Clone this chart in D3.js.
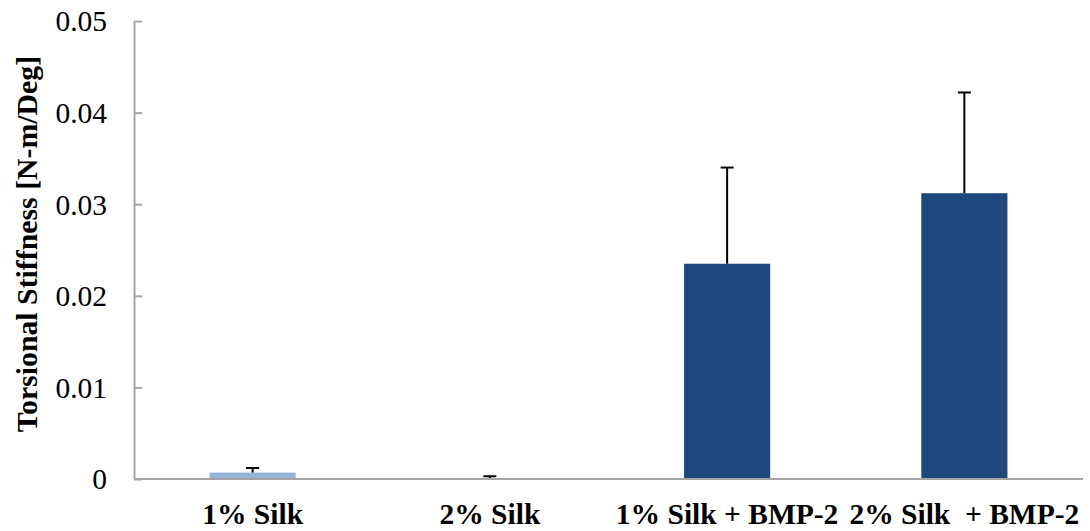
<!DOCTYPE html>
<html><head><meta charset="utf-8">
<script src="https://cdn.jsdelivr.net/npm/d3@7"></script>
<style>
html,body{margin:0;padding:0;background:#fff;}
svg{display:block;}
</style></head>
<body>
<svg id="chart" width="1090" height="531"></svg>
<script>
const categories = ["1% Silk", "2% Silk", "1% Silk + BMP-2", "2% Silk  + BMP-2"];
const values = [0.0007, 0.0001, 0.0235, 0.0312];
const errors = [0.0005, 0.0002, 0.0105, 0.0110];
const barColors = ["#95b3d7", "#95b3d7", "#1f497d", "#1f497d"];
const yTicks = [0, 0.01, 0.02, 0.03, 0.04, 0.05];
const yTickLabels = ["0", "0.01", "0.02", "0.03", "0.04", "0.05"];
const yTitle = "Torsional Stiffness [N-m/Deg]";

const svg = d3.select("#chart");
const mLeft = 134, mRight = 1083, mTop = 21, mBottom = 479;
const fontFam = "'Liberation Serif', 'Times New Roman', serif";

const x = d3.scaleBand().domain(categories).range([mLeft, mRight])
  .paddingInner(0.637).paddingOuter(0.3185);
const y = d3.scaleLinear().domain([0, 0.05]).range([mBottom, mTop]);

const axisColor = "#a6a6a6";

// bars
svg.append("g").selectAll("rect").data(categories).join("rect")
  .attr("x", d => x(d))
  .attr("width", x.bandwidth())
  .attr("y", (d, i) => y(values[i]))
  .attr("height", (d, i) => y(0) - y(values[i]))
  .attr("fill", (d, i) => barColors[i]);

// error bars
const eg = svg.append("g").attr("stroke", "#000").attr("stroke-width", 2);
categories.forEach((c, i) => {
  const cx = x(c) + x.bandwidth() / 2;
  const yt = y(values[i] + errors[i]);
  eg.append("line").attr("x1", cx).attr("x2", cx).attr("y1", y(values[i])).attr("y2", yt);
  eg.append("line").attr("x1", cx - 6.5).attr("x2", cx + 6.5).attr("y1", yt).attr("y2", yt);
});

// y axis
const yAxis = d3.axisRight(y).tickValues(yTicks).tickSize(8).tickFormat(() => "");
const yg = svg.append("g").attr("transform", `translate(${mLeft},0)`).call(yAxis);
yg.select(".domain").attr("stroke", axisColor).attr("stroke-width", 2)
  .attr("d", `M0.5,${mTop}V${mBottom}`);
yg.selectAll(".tick line").attr("stroke", axisColor).attr("stroke-width", 2);

// y tick labels
svg.append("g").selectAll("text").data(yTicks).join("text")
  .attr("x", 107)
  .attr("y", d => y(d))
  .attr("dy", "0.35em")
  .attr("text-anchor", "end")
  .attr("font-family", fontFam)
  .attr("font-size", 29.5)
  .attr("fill", "#000")
  .text((d, i) => yTickLabels[i]);

// x axis
const xAxis = d3.axisBottom(x).tickSize(0).tickFormat(() => "");
const xg = svg.append("g").attr("transform", `translate(0,${mBottom})`).call(xAxis);
xg.select(".domain").attr("stroke", axisColor).attr("stroke-width", 2)
  .attr("d", `M${mLeft},0H${mRight}`);

// x labels
svg.append("g").selectAll("text").data(categories).join("text")
  .attr("x", d => x(d) + x.bandwidth() / 2)
  .attr("y", 524)
  .attr("text-anchor", "middle")
  .attr("font-family", fontFam)
  .attr("font-weight", "bold")
  .attr("font-size", 29.5)
  .style("white-space", "pre")
  .attr("fill", "#000")
  .text(d => d);

// y title
svg.append("text")
  .attr("transform", "translate(37,244) rotate(-90)")
  .attr("text-anchor", "middle")
  .attr("font-family", fontFam)
  .attr("font-weight", "bold")
  .attr("font-size", 29.8)
  .attr("fill", "#000")
  .text(yTitle);
</script>
</body></html>
